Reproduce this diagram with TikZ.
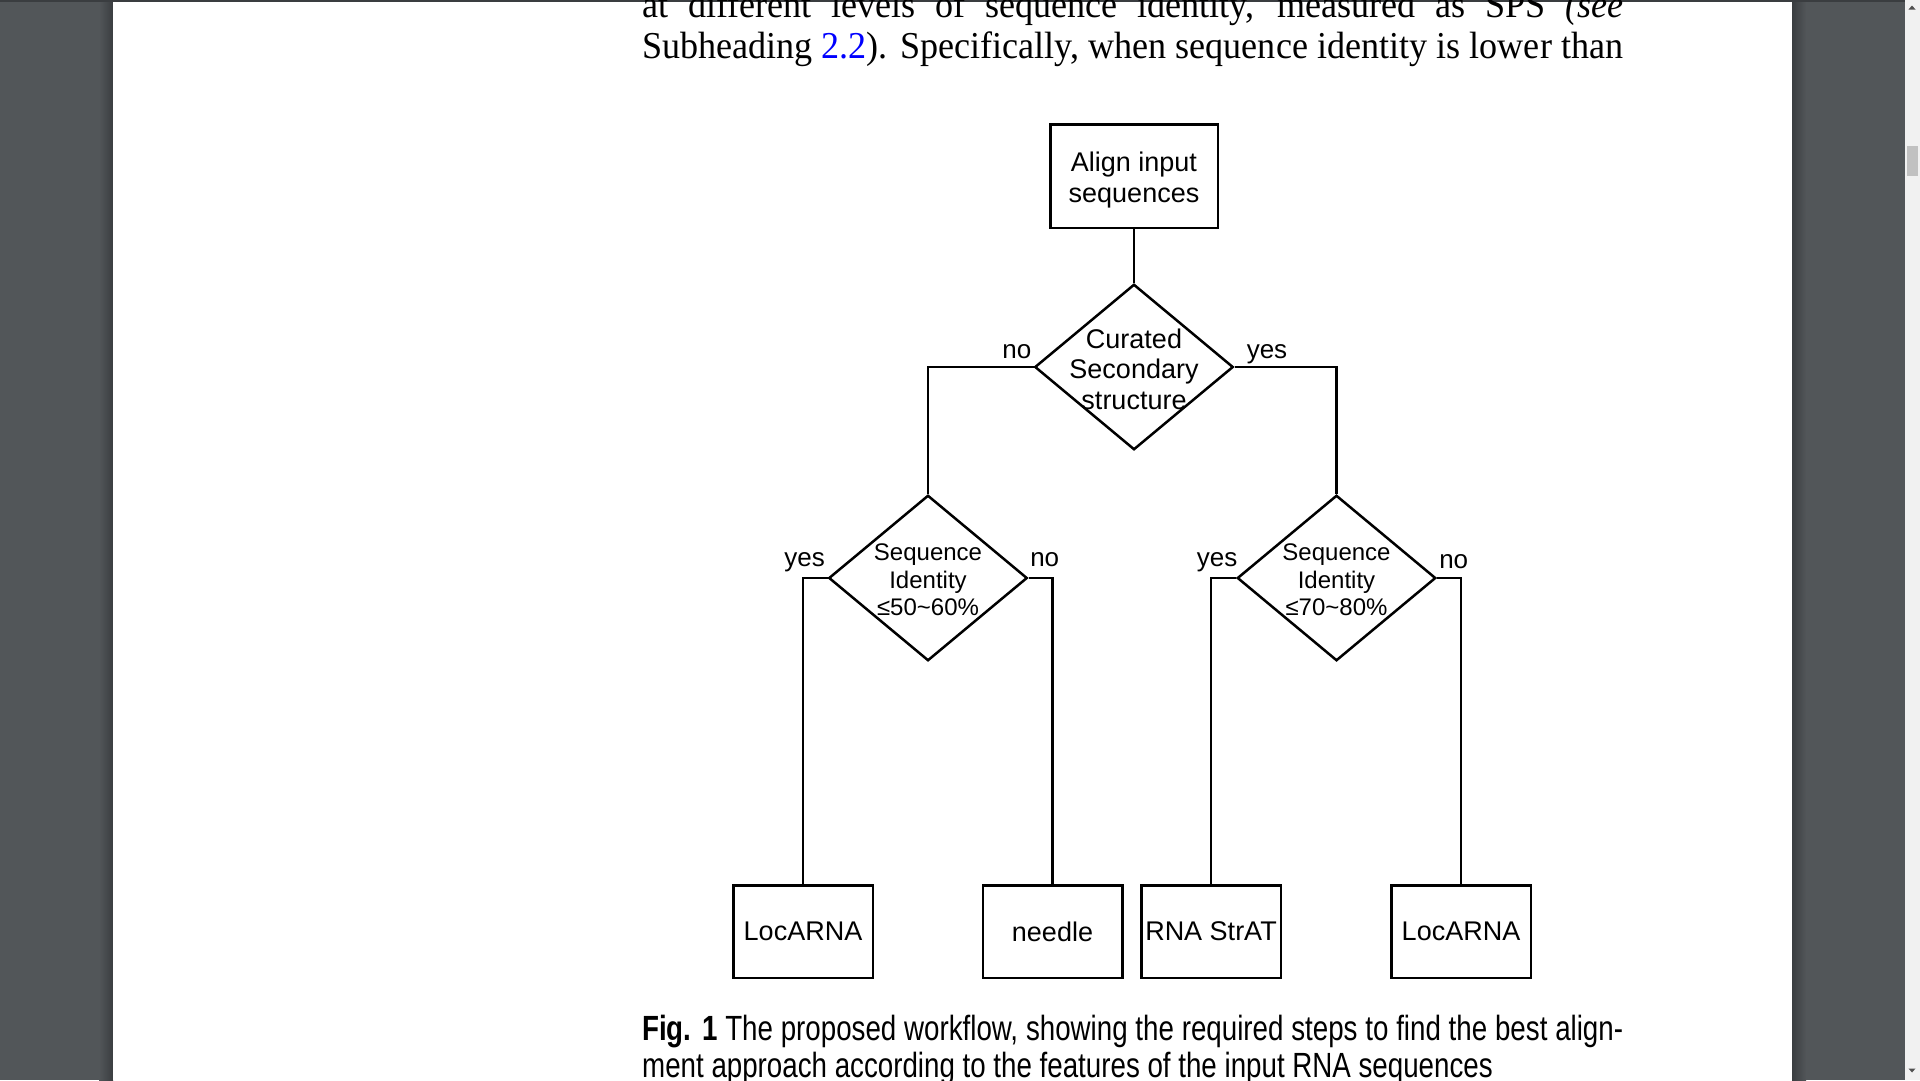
\documentclass[tikz,border=0pt]{standalone}
\usepackage{fontspec}
\setmainfont{Liberation Serif}
\newfontfamily\flowfont{Liberation Sans}
\newfontfamily\bodyfont[FakeStretch=0.95]{Liberation Serif}
\newfontfamily\capfont[FakeStretch=0.792]{Liberation Sans}
\usetikzlibrary{shapes.geometric}

\definecolor{viewergray}{RGB}{82,86,89}
\definecolor{viewershade}{RGB}{58,61,64}
\definecolor{scrolltrack}{RGB}{241,241,241}
\definecolor{scrollthumb}{RGB}{193,193,193}
\definecolor{scrollarrow}{RGB}{80,80,80}
\definecolor{reflink}{RGB}{0,0,255}

\tikzset{
  flowline/.style={line width=2.5pt},
  stepbox/.style={draw, line width=2.5pt, inner sep=0pt, align=center,
    font=\flowfont\fontsize{27}{31}\selectfont},
  toolbox/.style={stepbox, minimum width=139.5, minimum height=92.5,
    font=\flowfont\fontsize{27}{31}\selectfont},
  decision/.style={draw, diamond, line width=2.5pt, inner sep=0pt,
    minimum width=198.5, minimum height=165.5},
  bigq/.style={align=center, inner sep=0pt, font=\flowfont\fontsize{27}{30.6}\selectfont},
  smallq/.style={align=center, inner sep=0pt, font=\flowfont\fontsize{24}{27.5}\selectfont},
  answer/.style={inner sep=0pt, font=\flowfont\fontsize{26}{28}\selectfont},
}

\begin{document}
\begin{tikzpicture}[x=1pt, y=-1pt]
  \useasboundingbox (0,0) rectangle (1920,1080);
  \clip (0,0) rectangle (1920,1080);
  % viewer and page
  \fill[viewergray] (0,0) rectangle (1920,1080);
  \shade[left color=viewergray, right color=viewershade] (99,0) rectangle (113,1080);
  \shade[left color=viewershade, right color=viewergray] (1792,0) rectangle (1806,1080);
  \fill[white] (113,0) rectangle (1792,1080);
  \fill[viewershade] (0,0) rectangle (1920,2);
  % scrollbar
  \fill[scrolltrack] (1905,0) rectangle (1920,1080);
  \fill[scrollthumb] (1907,146) rectangle (1918,176);
  \fill[scrollarrow] (1908.5,9.5) -- (1915.5,9.5) -- (1912,5.5) -- cycle;
  \fill[scrollarrow] (1908.5,1068.5) -- (1915.5,1068.5) -- (1912,1072.5) -- cycle;

  % running text
  \node[anchor=base west, inner sep=0pt] (textA) at (642,17)
    {\bodyfont\fontsize{38}{41}\selectfont\makebox[981pt][s]{at different levels of sequence identity, measured as SPS \textit{(see}}};
  \node[anchor=base west, inner sep=0pt] (textB) at (642,58)
    {\bodyfont\fontsize{38}{41}\selectfont\makebox[981pt][s]{Subheading \textcolor{reflink}{2.2}). Specifically, when sequence identity is lower than}};

  % workflow
  \node[stepbox, minimum width=167.5, minimum height=103.5] (align) at (1134,176) {\rule{0pt}{27pt}Align input\\sequences};
  \node[decision, label={[bigq, yshift=-2pt]center:{Curated\\Secondary\\structure}}] (curated) at (1134,367) {};
  \node[decision, label={[smallq, yshift=-2pt]center:{Sequence\\Identity\\≤50\textasciitilde60\%}}] (lowid) at (928,578) {};
  \node[decision, label={[smallq, yshift=-2pt]center:{Sequence\\Identity\\≤70\textasciitilde80\%}}] (highid) at (1336.5,578) {};

  \node[toolbox] (locarnaA) at (803,931.5) {LocARNA};
  \node[toolbox] (needle) at (1052.5,931.5) {needle};
  \node[toolbox] (strat) at (1211,931.5) {RNA StrAT};
  \node[toolbox] (locarnaB) at (1461,931.5) {LocARNA};

  \draw[flowline] (align) -- (curated);
  \draw[flowline] (curated.west) node[answer, anchor=base east, xshift=-1pt, yshift=9pt] (curno) {no} -| (lowid.north);
  \draw[flowline] (curated.east) node[answer, anchor=base west, xshift=11pt, yshift=9pt] (curyes) {yes} -| (highid.north);
  \draw[flowline] (lowid.west) node[answer, anchor=base east, xshift=-1.5pt, yshift=12pt] (lowyes) {yes} -| (locarnaA.north);
  \draw[flowline] (lowid.east) node[answer, anchor=base west, xshift=0.5pt, yshift=12pt] (lowno) {no} -| (needle.north);
  \draw[flowline] (highid.west) node[answer, anchor=base east, xshift=2.5pt, yshift=12pt] (highyes) {yes} -| (strat.north);
  \draw[flowline] (highid.east) node[answer, anchor=base west, xshift=1pt, yshift=10pt] (highno) {no} -| (locarnaB.north);

  % caption
  \node[anchor=base west, inner sep=0pt] (capA) at (642,1040)
    {\capfont\fontsize{35}{37}\selectfont\makebox[981pt][s]{\textbf{Fig. 1} The proposed workflow, showing the required steps to find the best align-}};
  \node[anchor=base west, inner sep=0pt] (capB) at (642,1077)
    {\capfont\fontsize{35}{37}\selectfont ment approach according to the features of the input RNA sequences};
\end{tikzpicture}
\end{document}
